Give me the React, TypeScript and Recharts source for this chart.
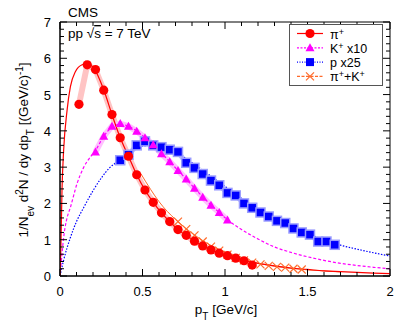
import { ComposedChart, Line, Scatter, XAxis, YAxis, ReferenceArea } from "recharts";

const pionPt = [0.115, 0.165, 0.215, 0.265, 0.315, 0.365, 0.415, 0.465, 0.515, 0.565, 0.615, 0.665, 0.715, 0.765, 0.815, 0.865, 0.915, 0.965, 1.015, 1.065, 1.115, 1.165];
const pionYield = [4.73, 5.82, 5.69, 5.12, 4.45, 3.81, 3.3, 2.79, 2.37, 2.03, 1.74, 1.5, 1.28, 1.12, 0.96, 0.83, 0.72, 0.63, 0.56, 0.49, 0.42, 0.3];

const kaonPt = [0.215, 0.265, 0.315, 0.365, 0.415, 0.465, 0.515, 0.565, 0.615, 0.665, 0.715, 0.765, 0.815, 0.865, 0.915, 0.965, 1.015];
const kaonYield = [3.42, 3.85, 4.13, 4.2, 4.13, 3.99, 3.81, 3.62, 3.37, 3.15, 2.91, 2.67, 2.42, 2.17, 1.95, 1.75, 1.54];

const protonPt = [0.365, 0.415, 0.465, 0.515, 0.565, 0.615, 0.665, 0.715, 0.765, 0.815, 0.865, 0.915, 0.965, 1.015, 1.065, 1.115, 1.165, 1.215, 1.265, 1.315, 1.365, 1.415, 1.465, 1.515, 1.565, 1.615, 1.665];
const protonYield = [3.19, 3.34, 3.6, 3.71, 3.6, 3.55, 3.48, 3.42, 3.12, 2.98, 2.81, 2.63, 2.5, 2.29, 2.22, 2.0, 1.88, 1.75, 1.64, 1.52, 1.46, 1.31, 1.2, 1.14, 0.95, 0.95, 0.86];

const sumPt = [0.715, 0.765, 0.815, 0.865, 0.915, 0.965, 1.015, 1.065, 1.115, 1.165, 1.215, 1.265, 1.315, 1.365, 1.415, 1.465];
const sumYield = [1.5, 1.29, 1.12, 0.95, 0.81, 0.7, 0.59, 0.5, 0.43, 0.37, 0.32, 0.28, 0.25, 0.23, 0.2, 0.18];

// fit curves (sampled off the figure)
const pionFitPt = [0, 0.005, 0.012, 0.022, 0.043, 0.063, 0.093, 0.134, 0.164, 0.205, 0.266, 0.315, 0.365, 0.415, 0.465, 0.515, 0.565, 0.615, 0.665, 0.715, 0.765, 0.815, 0.865, 0.915, 0.965, 1.015, 1.1, 1.2, 1.3, 1.4, 1.5, 1.6, 1.7, 1.8, 1.9, 2.0];
const pionFitY = [0, 0.7, 2.35, 3.46, 4.57, 5.22, 5.63, 5.82, 5.85, 5.73, 5.12, 4.45, 3.81, 3.3, 2.79, 2.37, 2.03, 1.74, 1.5, 1.28, 1.12, 0.96, 0.83, 0.72, 0.63, 0.55, 0.44, 0.35, 0.28, 0.22, 0.18, 0.14, 0.12, 0.1, 0.08, 0.065];

const kaonFitPt = [0, 0.01, 0.022, 0.04, 0.063, 0.103, 0.144, 0.184, 0.215, 0.265, 0.315, 0.365, 0.415, 0.465, 0.515, 0.565, 0.615, 0.665, 0.715, 0.765, 0.815, 0.865, 0.915, 0.965, 1.015, 1.1, 1.2, 1.3, 1.4, 1.5, 1.6, 1.7, 1.8, 1.9, 2.0];
const kaonFitY = [0, 0.5, 1.06, 1.55, 1.89, 2.54, 3.0, 3.28, 3.46, 3.85, 4.1, 4.18, 4.13, 3.99, 3.81, 3.6, 3.38, 3.15, 2.91, 2.67, 2.42, 2.18, 1.96, 1.75, 1.55, 1.28, 1.02, 0.8, 0.65, 0.53, 0.43, 0.35, 0.29, 0.24, 0.2];

const protonFitPt = [0, 0.02, 0.063, 0.1, 0.144, 0.2, 0.25, 0.3, 0.36, 0.4, 0.45, 0.5, 0.55, 0.6, 0.7, 0.8, 0.9, 1.0, 1.1, 1.2, 1.3, 1.4, 1.5, 1.6, 1.7, 1.8, 1.9, 2.0];
const protonFitY = [0, 0.4, 1.06, 1.5, 1.89, 2.35, 2.7, 2.98, 3.19, 3.35, 3.5, 3.58, 3.6, 3.56, 3.4, 3.12, 2.8, 2.47, 2.14, 1.84, 1.58, 1.36, 1.17, 1.0, 0.85, 0.74, 0.64, 0.55];

const sumFitPt = [0.49, 0.55, 0.6, 0.65, 0.7, 0.75, 0.8, 0.85, 0.9, 0.95, 1.0, 1.1, 1.2, 1.3, 1.4, 1.5, 1.6, 1.7];
const sumFitY = [2.82, 2.38, 2.05, 1.78, 1.56, 1.36, 1.18, 1.02, 0.88, 0.76, 0.65, 0.47, 0.35, 0.27, 0.21, 0.17, 0.14, 0.11];

const xMajorTicks = [0, 0.5, 1, 1.5, 2];
const xMinorTicks = [0.1, 0.2, 0.3, 0.4, 0.6, 0.7, 0.8, 0.9, 1.1, 1.2, 1.3, 1.4, 1.6, 1.7, 1.8, 1.9];
const yMajorTicks = [0, 1, 2, 3, 4, 5, 6, 7];
const yMinorTicks = [0.2, 0.4, 0.6, 0.8, 1.2, 1.4, 1.6, 1.8, 2.2, 2.4, 2.6, 2.8, 3.2, 3.4, 3.6, 3.8, 4.2, 4.4, 4.6, 4.8, 5.2, 5.4, 5.6, 5.8, 6.2, 6.4, 6.6, 6.8];

const pts = (xs: number[], ys: number[]) => xs.map((x, i) => ({ x, y: ys[i] }));

const FONT = "'Liberation Sans', Arial, sans-serif";
const PLOT = { left: 60, top: 22, right: 390, bottom: 276 };

const RED = "#ff0000";
const MAGENTA = "#ff00ff";
const BLUE = "#0000ff";
const ORANGE = "#ff6a2a";

function XTick(props: any) {
  const { x, y, payload } = props;
  const v = payload.value;
  const major = xMajorTicks.includes(v);
  const len = major ? 7 : 4;
  return (
    <g>
      <line x1={x} y1={y} x2={x} y2={y - len} stroke="#000" />
      <line x1={x} y1={PLOT.top} x2={x} y2={PLOT.top + len} stroke="#000" />
      {major && (
        <text x={x} y={y + 20} textAnchor="middle" fontSize={13} fontFamily={FONT} fill="#000">
          {String(v)}
        </text>
      )}
    </g>
  );
}

function YTick(props: any) {
  const { x, y, payload } = props;
  const v = payload.value;
  const major = yMajorTicks.includes(v);
  const len = major ? 7 : 4;
  return (
    <g>
      <line x1={x} y1={y} x2={x + len} y2={y} stroke="#000" />
      <line x1={PLOT.right} y1={y} x2={PLOT.right - len} y2={y} stroke="#000" />
      {major && (
        <text x={x - 9} y={y + 5} textAnchor="end" fontSize={13} fontFamily={FONT} fill="#000">
          {String(v)}
        </text>
      )}
    </g>
  );
}

const Circle = (p: any) => <circle cx={p.cx} cy={p.cy} r={4.6} fill={RED} />;
const Triangle = (p: any) => (
  <polygon points={`${p.cx},${p.cy - 4.5} ${p.cx - 4.5},${p.cy + 3.5} ${p.cx + 4.5},${p.cy + 3.5}`} fill={MAGENTA} />
);
const Square = (p: any) => (
  <rect x={p.cx - 4.5} y={p.cy - 4.5} width={9} height={9} fill={BLUE} stroke="#9a9cff" strokeWidth={1.5} />
);
const Cross = (p: any) => (
  <g stroke={ORANGE} strokeWidth={1.2}>
    <line x1={p.cx - 4} y1={p.cy - 4} x2={p.cx + 4} y2={p.cy + 4} />
    <line x1={p.cx - 4} y1={p.cy + 4} x2={p.cx + 4} y2={p.cy - 4} />
  </g>
);

const legendRows = [
  { label: "π", sup: "+", rest: "", color: RED, dash: undefined, marker: "circle" },
  { label: "K", sup: "+", rest: " x10", color: MAGENTA, dash: "2 1.5", marker: "triangle" },
  { label: "p x25", sup: "", rest: "", color: BLUE, dash: "1 1.5", marker: "square" },
  { label: "π", sup: "+", rest: "+K", sup2: "+", color: ORANGE, dash: "3 1.5", marker: "cross" },
];

function Overlay() {
  return (
    <svg width={407} height={326} style={{ position: "absolute", left: 0, top: 0, pointerEvents: "none" }} fontFamily={FONT}>
      <text x={68} y={17} fontSize={13.5} fill="#000">CMS</text>
      <text x={68} y={38} fontSize={13.5} fill="#000">
        pp √<tspan textDecoration="overline">s</tspan> = 7 TeV
      </text>
      <text x={226} y={314} fontSize={13.5} textAnchor="middle" fill="#000">
        p<tspan fontSize={10} baselineShift="sub">T</tspan> [GeV/c]
      </text>
      <text transform="translate(28,150) rotate(-90)" fontSize={13.5} textAnchor="middle" fill="#000">
        1/N<tspan fontSize={10} baselineShift="sub">ev</tspan> d<tspan fontSize={10} baselineShift="super">2</tspan>N / dy dp<tspan fontSize={10} baselineShift="sub">T</tspan> [(GeV/c)<tspan fontSize={10} baselineShift="super">-1</tspan>]
      </text>
      <g>
        <rect x={289.5} y={24.5} width={93} height={61} fill="#fff" stroke="#555" strokeWidth={1} />
        {legendRows.map((r, i) => {
          const cy = 33.5 + i * 14.3;
          const cx = 310;
          return (
            <g key={i}>
              <line x1={297} y1={cy} x2={323} y2={cy} stroke={r.color} strokeWidth={1.2} strokeDasharray={r.dash} />
              {r.marker === "circle" && <Circle cx={cx} cy={cy} />}
              {r.marker === "triangle" && <Triangle cx={cx} cy={cy} />}
              {r.marker === "square" && <rect x={cx - 4} y={cy - 4} width={8} height={8} fill={BLUE} />}
              {r.marker === "cross" && <Cross cx={cx} cy={cy} />}
              <text x={330} y={cy + 5} fontSize={12.5} fill="#000">
                {r.label}
                {r.sup && <tspan fontSize={9} dy={-4}>{r.sup}</tspan>}
                {r.sup && <tspan dy={4}>{r.rest}</tspan>}
                {r.sup2 && <tspan fontSize={9} dy={-4}>{r.sup2}</tspan>}
              </text>
            </g>
          );
        })}
      </g>
    </svg>
  );
}

export default function App() {
  return (
    <div style={{ position: "absolute", left: 0, top: 0, width: 407, height: 326, background: "#fff" }}>
      <ComposedChart width={407} height={326} margin={{ top: 22, right: 17, left: 0, bottom: 0 }}>
        <XAxis
          type="number"
          dataKey="x"
          domain={[0, 2]}
          ticks={[...xMajorTicks, ...xMinorTicks].sort((a, b) => a - b)}
          interval={0}
          tickSize={0}
          tickMargin={0}
          tickLine={false}
          height={50}
          stroke="#000"
          tick={<XTick />}
          allowDataOverflow
        />
        <YAxis
          type="number"
          dataKey="y"
          domain={[0, 7]}
          ticks={[...yMajorTicks, ...yMinorTicks].sort((a, b) => a - b)}
          interval={0}
          tickSize={0}
          tickMargin={0}
          tickLine={false}
          width={60}
          stroke="#000"
          tick={<YTick />}
          allowDataOverflow
        />
        <ReferenceArea x1={0} x2={2} y1={0} y2={7} fill="none" stroke="#000" strokeWidth={1} ifOverflow="visible" />

        {/* systematic bands */}
        <Line data={pts(pionPt, pionYield)} dataKey="y" stroke="#ffc4c4" strokeWidth={6} dot={false} isAnimationActive={false} type="linear" />
        <Line data={pts(kaonPt, kaonYield)} dataKey="y" stroke="#ffc0ff" strokeWidth={6} dot={false} isAnimationActive={false} type="linear" />
        <Line data={pts(protonPt, protonYield)} dataKey="y" stroke="#b8bcff" strokeWidth={5} dot={false} isAnimationActive={false} type="linear" />

        {/* fits */}
        <Line data={pts(protonFitPt, protonFitY)} dataKey="y" stroke={BLUE} strokeWidth={1.2} strokeDasharray="1.5 1.5" dot={false} isAnimationActive={false} type="monotone" />
        <Line data={pts(kaonFitPt, kaonFitY)} dataKey="y" stroke={MAGENTA} strokeWidth={1.2} strokeDasharray="3 2" dot={false} isAnimationActive={false} type="monotone" />
        <Line data={pts(sumFitPt, sumFitY)} dataKey="y" stroke={ORANGE} strokeWidth={1} dot={false} isAnimationActive={false} type="monotone" />
        <Line data={pts(pionFitPt, pionFitY)} dataKey="y" stroke={RED} strokeWidth={1.2} dot={false} isAnimationActive={false} type="monotone" />

        {/* data points */}
        <Scatter data={pts(protonPt, protonYield)} dataKey="y" shape={Square} isAnimationActive={false} />
        <Scatter data={pts(kaonPt, kaonYield)} dataKey="y" shape={Triangle} isAnimationActive={false} />
        <Scatter data={pts(sumPt, sumYield)} dataKey="y" shape={Cross} isAnimationActive={false} />
        <Scatter data={pts(pionPt, pionYield)} dataKey="y" shape={Circle} isAnimationActive={false} />
      </ComposedChart>
      <Overlay />
    </div>
  );
}
